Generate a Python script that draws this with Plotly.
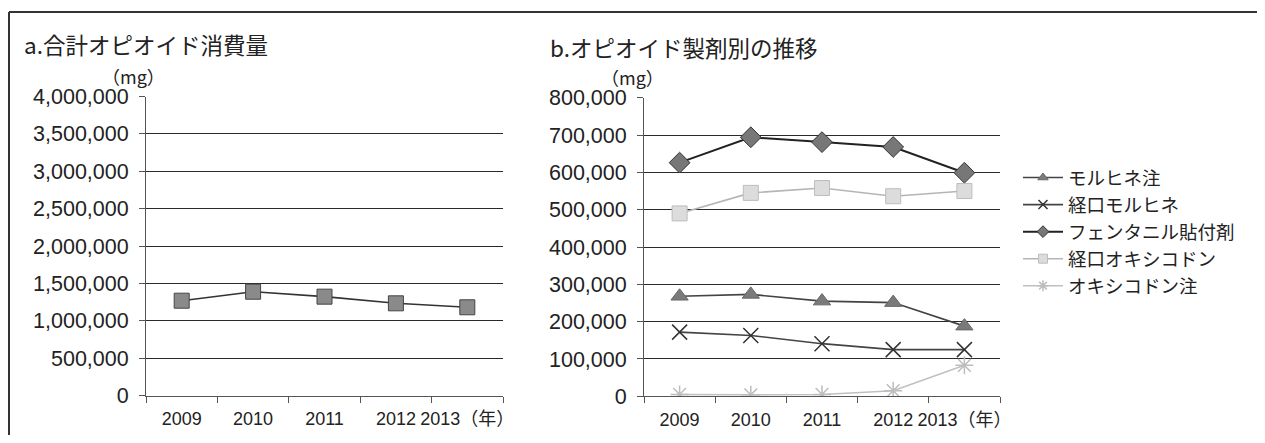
import plotly.graph_objects as go

OFF = 8  # page body margin of the browser
W, H = 1265 - 2 * OFF, 443 - 2 * OFF

years = ["2009", "2010", "2011", "2012", "2013"]
year_ticktext = ["2009", "2010", "2011", "2012", "2013（年）"]

total_opioid = [1270000, 1390000, 1324000, 1235000, 1182000]

morphine_inj = [268000, 273000, 255000, 251000, 188000]
oral_morphine = [172000, 163000, 141000, 125000, 125000]
fentanyl_patch = [626000, 694000, 681000, 668000, 599000]
oral_oxycodone = [490000, 545000, 558000, 536000, 550000]
oxycodone_inj = [5000, 4000, 5000, 15000, 83000]

names = ["モルヒネ注", "経口モルヒネ", "フェンタニル貼付剤", "経口オキシコドン", "オキシコドン注"]

left_ticks = [0, 500000, 1000000, 1500000, 2000000, 2500000, 3000000, 3500000, 4000000]
right_ticks = [0, 100000, 200000, 300000, 400000, 500000, 600000, 700000, 800000]

FONT = "Liberation Sans, Arial, Noto Sans CJK JP, sans-serif"
JFONT = "Noto Sans CJK JP, Liberation Sans, sans-serif"

def px(x):
    return (x - OFF) / W

def py(y):
    return 1 - (y - OFF) / H

fig = go.Figure()

fig.add_trace(go.Scatter(
    x=years, y=total_opioid, mode="lines+markers", showlegend=False,
    line=dict(color="#333333", width=1.6),
    marker=dict(symbol="square", size=15, color="#8a8a8a", line=dict(color="#444444", width=1)),
    xaxis="x", yaxis="y"))

styles = [
    dict(line=dict(color="#444444", width=1.6),
         marker=dict(symbol="triangle-up", size=15, color="#7a7a7a", line=dict(color="#666666", width=1))),
    dict(line=dict(color="#444444", width=1.6),
         marker=dict(symbol="x-thin-open", size=15, color="#333333", line=dict(color="#333333", width=1.5))),
    dict(line=dict(color="#222222", width=2),
         marker=dict(symbol="diamond", size=16, color="#777777", line=dict(color="#333333", width=1))),
    dict(line=dict(color="#b5b5b5", width=1.6),
         marker=dict(symbol="square", size=15, color="#dcdcdc", line=dict(color="#bdbdbd", width=1))),
    dict(line=dict(color="#c0c0c0", width=1.6),
         marker=dict(symbol="asterisk-open", size=15, color="#bdbdbd", line=dict(color="#bdbdbd", width=1.5))),
]
series = [morphine_inj, oral_morphine, fentanyl_patch, oral_oxycodone, oxycodone_inj]
for nm, vals, st in zip(names, series, styles):
    fig.add_trace(go.Scatter(x=years, y=vals, name=nm, mode="lines+markers", showlegend=False,
                             xaxis="x2", yaxis="y2", **st))

# legend entries with small markers, as in the reference legend
for nm, st in zip(names, styles):
    m = dict(st["marker"])
    m["size"] = 9
    fig.add_trace(go.Scatter(x=[None], y=[None], name=nm, mode="lines+markers",
                             xaxis="x2", yaxis="y2", line=st["line"], marker=m))

axis_common = dict(showline=True, linecolor="#555555", linewidth=1,
                   ticks="outside", ticklen=6, tickcolor="#555555",
                   zeroline=False, fixedrange=True, automargin=False)

xcommon = dict(type="category", categoryorder="array", categoryarray=years,
               tickvals=years, ticktext=year_ticktext, tickson="boundaries",
               showgrid=False, tickangle=0, ticklabelstandoff=7,
               tickfont=dict(family=FONT, size=18, color="#222222"),
               range=[-0.5, 4.5], **axis_common)

fig.update_layout(
    width=W, height=H,
    margin=dict(l=0, r=0, t=0, b=0, pad=0, autoexpand=False),
    paper_bgcolor="white", plot_bgcolor="white",
    font=dict(family=FONT, color="#222222"),
    xaxis=dict(domain=[px(146), px(503)], anchor="y", **xcommon),
    yaxis=dict(domain=[py(395.7), py(96.5)], anchor="x", range=[0, 4000000],
               tickvals=left_ticks, tickformat=",d", showgrid=True,
               gridcolor="#2a2a2a", gridwidth=1,
               tickfont=dict(family=FONT, size=21.5, color="#222222"),
               ticklabelstandoff=6, **axis_common),
    xaxis2=dict(domain=[px(644), px(1000)], anchor="y2", **xcommon),
    yaxis2=dict(domain=[py(396.3), py(97.7)], anchor="x2", range=[0, 800000],
                tickvals=right_ticks, tickformat=",d", showgrid=True,
                gridcolor="#2a2a2a", gridwidth=1,
                tickfont=dict(family=FONT, size=21.5, color="#222222"),
                ticklabelstandoff=6, **axis_common),
    legend=dict(x=px(1018), y=py(159), xanchor="left", yanchor="top",
                font=dict(family=JFONT, size=18.5, color="#222222"),
                itemwidth=40, bgcolor="rgba(0,0,0,0)", traceorder="normal"),
)

annos = [
    dict(text="a.合計オピオイド消費量", x=px(22), y=py(44), xanchor="left", yanchor="middle", size=22.5),
    dict(text="（mg）", x=px(133), y=py(76), xanchor="center", yanchor="middle", size=18),
    dict(text="b.オピオイド製剤別の推移", x=px(548), y=py(47), xanchor="left", yanchor="middle", size=22.5),
    dict(text="（mg）", x=px(632), y=py(77), xanchor="center", yanchor="middle", size=18),
]
for a in annos:
    fig.add_annotation(text=a["text"], x=a["x"], y=a["y"], xref="paper", yref="paper",
                       xanchor=a["xanchor"], yanchor=a["yanchor"], showarrow=False,
                       font=dict(family=JFONT, size=a["size"], color="#222222"))

# outer frame
fig.add_shape(type="line", xref="paper", yref="paper", x0=px(9), x1=px(1257), y0=py(12), y1=py(12),
              line=dict(color="#333333", width=2))
fig.add_shape(type="line", xref="paper", yref="paper", x0=px(9), x1=px(9), y0=py(12), y1=py(440),
              line=dict(color="#333333", width=2))

fig.write_html("out.html")
